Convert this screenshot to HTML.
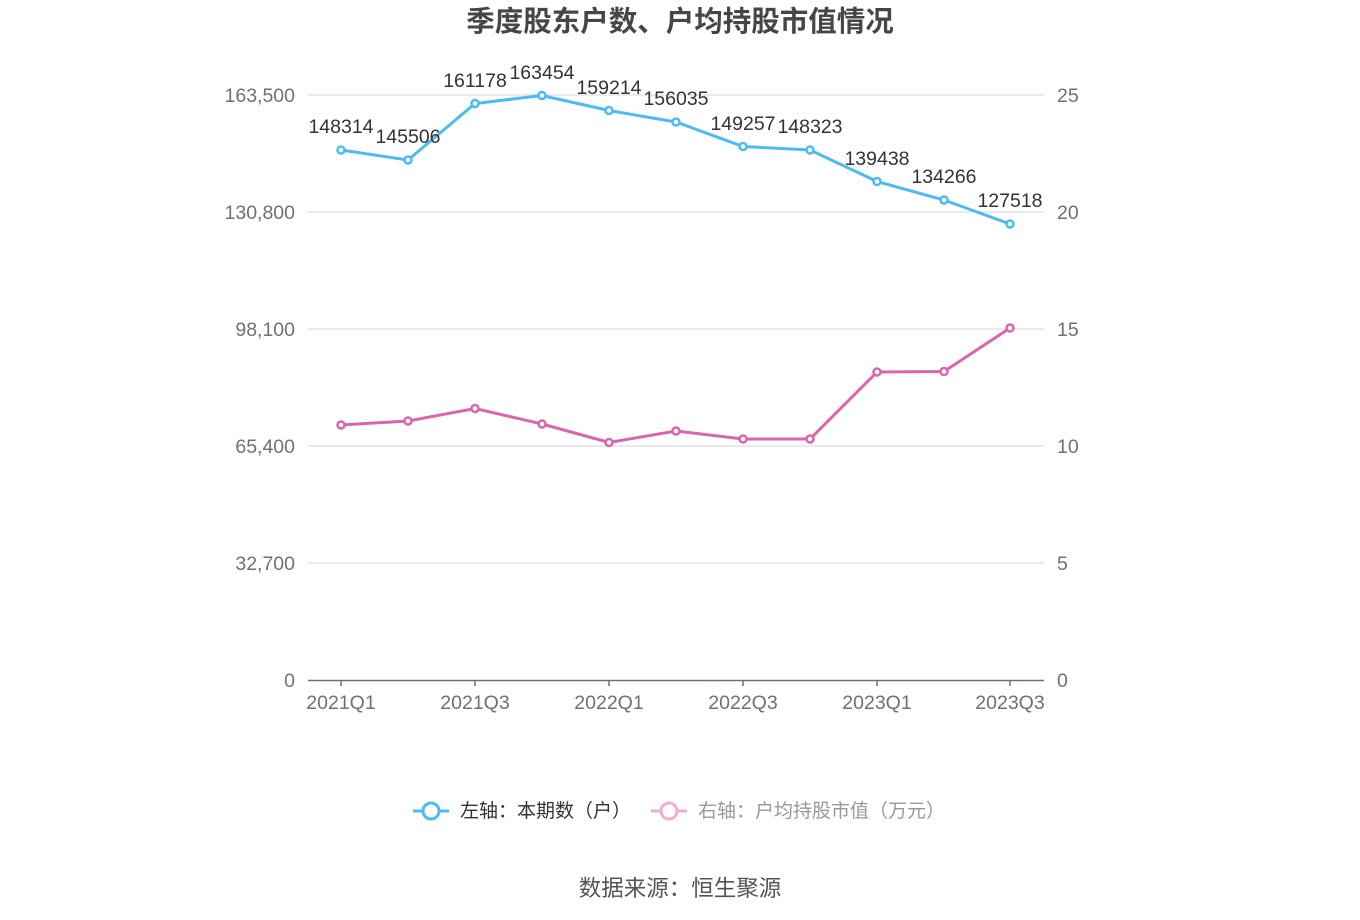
<!DOCTYPE html>
<html><head><meta charset="utf-8"><style>
html,body{margin:0;padding:0;background:#fff;}
svg{display:block;font-family:"Liberation Sans","Noto Sans CJK SC",sans-serif;}
</style></head><body>
<svg width="1360" height="920" viewBox="0 0 1360 920" xmlns="http://www.w3.org/2000/svg">
<text x="680" y="31" text-anchor="middle" font-size="28.5" font-weight="bold" fill="#464646">季度股东户数、户均持股市值情况</text>
<g stroke="#e0e3ec" stroke-width="1.5">
<line x1="308" y1="95" x2="1044" y2="95"/><line x1="308" y1="212" x2="1044" y2="212"/>
<line x1="308" y1="329" x2="1044" y2="329"/><line x1="308" y1="446" x2="1044" y2="446"/>
<line x1="308" y1="563" x2="1044" y2="563"/>
</g>
<line x1="308" y1="680.5" x2="1044" y2="680.5" stroke="#6e7079" stroke-width="1.5"/>
<g stroke="#6e7079" stroke-width="1.5">
<line x1="341" y1="680" x2="341" y2="686"/><line x1="475" y1="680" x2="475" y2="686"/>
<line x1="609" y1="680" x2="609" y2="686"/><line x1="743" y1="680" x2="743" y2="686"/>
<line x1="877" y1="680" x2="877" y2="686"/><line x1="1010" y1="680" x2="1010" y2="686"/>
</g>
<g font-size="19.5" fill="#6e7079" text-anchor="end">
<text x="295" y="102">163,500</text><text x="295" y="219">130,800</text><text x="295" y="336">98,100</text>
<text x="295" y="453">65,400</text><text x="295" y="570">32,700</text><text x="295" y="687">0</text>
</g>
<g font-size="19.5" fill="#6e7079" text-anchor="start">
<text x="1057" y="102">25</text><text x="1057" y="219">20</text><text x="1057" y="336">15</text>
<text x="1057" y="453">10</text><text x="1057" y="570">5</text><text x="1057" y="687">0</text>
</g>
<g font-size="19.5" fill="#6e7079" text-anchor="middle">
<text x="341" y="709">2021Q1</text><text x="475" y="709">2021Q3</text><text x="609" y="709">2022Q1</text>
<text x="743" y="709">2022Q3</text><text x="877" y="709">2023Q1</text><text x="1010" y="709">2023Q3</text>
</g>
<polyline fill="none" stroke="#4dbbf1" stroke-width="3" points="341,150 408,160 475,103.5 542,95.5 609,110.5 676,122 743,146.5 810,150 877,181.5 944,200 1010,224"/>
<g fill="#fff" stroke="#4dbbf1" stroke-width="2.5">
<circle cx="341" cy="150" r="3.5"/><circle cx="408" cy="160" r="3.5"/><circle cx="475" cy="103.5" r="3.5"/><circle cx="542" cy="95.5" r="3.5"/><circle cx="609" cy="110.5" r="3.5"/><circle cx="676" cy="122" r="3.5"/><circle cx="743" cy="146.5" r="3.5"/><circle cx="810" cy="150" r="3.5"/><circle cx="877" cy="181.5" r="3.5"/><circle cx="944" cy="200" r="3.5"/><circle cx="1010" cy="224" r="3.5"/>
</g>
<g font-size="19.5" fill="#333" text-anchor="middle">
<text x="341" y="133">148314</text><text x="408" y="143">145506</text><text x="475" y="87">161178</text><text x="542" y="79">163454</text><text x="609" y="94">159214</text><text x="676" y="105">156035</text><text x="743" y="130">149257</text><text x="810" y="133">148323</text><text x="877" y="165">139438</text><text x="944" y="183">134266</text><text x="1010" y="207">127518</text>
</g>
<polyline fill="none" stroke="#d966ac" stroke-width="3" points="341,425 408,421 475,408.5 542,424 609,442.5 676,431 743,439 810,439 877,372 944,371.5 1010,328"/>
<g fill="#fff" stroke="#d966ac" stroke-width="2.5">
<circle cx="341" cy="425" r="3.5"/><circle cx="408" cy="421" r="3.5"/><circle cx="475" cy="408.5" r="3.5"/><circle cx="542" cy="424" r="3.5"/><circle cx="609" cy="442.5" r="3.5"/><circle cx="676" cy="431" r="3.5"/><circle cx="743" cy="439" r="3.5"/><circle cx="810" cy="439" r="3.5"/><circle cx="877" cy="372" r="3.5"/><circle cx="944" cy="371.5" r="3.5"/><circle cx="1010" cy="328" r="3.5"/>
</g>
<line x1="413" y1="811" x2="449" y2="811" stroke="#4dbbf1" stroke-width="3"/>
<circle cx="431" cy="811" r="8" fill="#fff" stroke="#4dbbf1" stroke-width="3"/>
<text x="460" y="817" font-size="19" fill="#333">左轴：本期数（户）</text>
<line x1="651" y1="811" x2="687" y2="811" stroke="#eeaed4" stroke-width="3"/>
<circle cx="669" cy="811" r="8" fill="#fff" stroke="#eeaed4" stroke-width="3"/>
<text x="698" y="817" font-size="19" fill="#999">右轴：户均持股市值（万元）</text>
<text x="680" y="896" text-anchor="middle" font-size="22.5" fill="#555">数据来源：恒生聚源</text>
</svg>
</body></html>
